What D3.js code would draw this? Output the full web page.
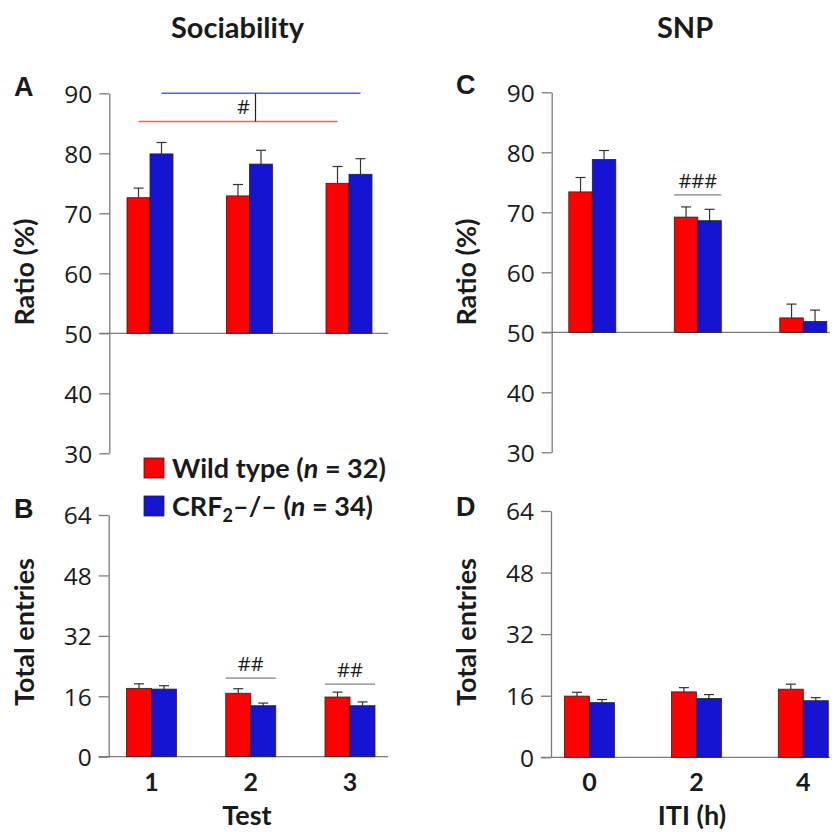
<!DOCTYPE html>
<html>
<head>
<meta charset="utf-8">
<script src="https://cdn.jsdelivr.net/npm/d3@7"></script>
<style>
	body { margin: 0; background: #fff; }
	svg text { fill: #1a1a1a; }
</style>
</head>
<body>
<div id="chart"></div>
<script>
/**
 * Sociabilite et SNP : ratios et entrees totales, WT vs CRF2-/-
 */

// Categories
const testLabels = ["1", "2", "3"];
const itiLabels = ["0", "2", "4"];

// A : ratio sociabilite (%)
const sociabilityRatioWT = [72.6, 72.9, 75.0];
const sociabilityRatioWTSem = [1.6, 1.9, 2.8];
const sociabilityRatioKO = [79.9, 78.2, 76.5];
const sociabilityRatioKOSem = [1.9, 2.3, 2.6];

// B : entrees totales sociabilite
const sociabilityEntriesWT = [18.1, 16.8, 15.8];
const sociabilityEntriesWTSem = [1.2, 1.2, 1.3];
const sociabilityEntriesKO = [17.9, 13.5, 13.5];
const sociabilityEntriesKOSem = [0.9, 0.7, 1.0];

// C : ratio SNP (%)
const snpRatioWT = [73.4, 69.2, 52.4];
const snpRatioWTSem = [2.4, 1.7, 2.3];
const snpRatioKO = [78.8, 68.6, 51.8];
const snpRatioKOSem = [1.5, 1.9, 1.9];

// D : entrees totales SNP
const snpEntriesWT = [15.9, 17.0, 17.7];
const snpEntriesWTSem = [1.0, 1.1, 1.3];
const snpEntriesKO = [14.2, 15.3, 14.7];
const snpEntriesKOSem = [0.8, 1.0, 0.8];

// Axes
const ratioTicks = [30, 40, 50, 60, 70, 80, 90];
const entriesTicks = [0, 16, 32, 48, 64];

// Annotations de significativite
const entriesSigB = [{ cat: "2", level: 20.8, label: "##" }, { cat: "3", level: 19.2, label: "##" }];
const ratioSigC = [{ cat: "2", level: 72.9, label: "###" }];

const legendLabels = ["Wild type", "CRF"];
const colors = { wt: "#ff0000", ko: "#1414d2" };

const width = 840, height = 832;
const svg = d3.select("#chart").append("svg")
	.attr("width", width)
	.attr("height", height);

const labelFont = "Lato, 'Open Sans', sans-serif";
const tickFont = "'Open Sans', sans-serif";

/**
 * Dessine un panneau de barres groupees
 */
function drawPanel(cfg) {
	const g = svg.append("g");
	const y = d3.scaleLinear().domain(cfg.domain).range([cfg.yBottom, cfg.yTop]);
	const x = d3.scalePoint().domain(cfg.categories).range(cfg.xRange);
	const bw = cfg.barWidth;

	// y axis
	const yAxis = d3.axisLeft(y).tickValues(cfg.ticks).tickSize(10).tickSizeOuter(0).tickPadding(7);
	const axisG = g.append("g")
		.attr("transform", "translate(" + cfg.axisX + ",0)")
		.call(yAxis);
	axisG.attr("font-family", tickFont).attr("font-size", 24.5);
	axisG.select(".domain").attr("stroke", "#7a7a7a").attr("stroke-width", 1.3);
	axisG.selectAll(".tick line").attr("stroke", "#7a7a7a").attr("stroke-width", 1.3);
	axisG.selectAll(".tick text").attr("fill", "#1a1a1a").attr("dy", "0.36em");

	// baseline
	g.append("line")
		.attr("x1", cfg.axisX - 10).attr("x2", cfg.xEnd)
		.attr("y1", y(cfg.base)).attr("y2", y(cfg.base))
		.attr("stroke", "#7a7a7a").attr("stroke-width", 1.3);

	const series = [
		{ values: cfg.wt, sem: cfg.wtSem, color: colors.wt, off: -bw },
		{ values: cfg.ko, sem: cfg.koSem, color: colors.ko, off: 0 }
	];

	series.forEach(s => {
		const rows = cfg.categories.map((c, i) => ({ c: c, v: s.values[i], e: s.sem[i] }));
		// error bars (behind bars)
		const err = g.append("g").selectAll("g").data(rows).enter().append("g");
		err.append("line")
			.attr("x1", d => x(d.c) + s.off + bw / 2).attr("x2", d => x(d.c) + s.off + bw / 2)
			.attr("y1", d => y(d.v)).attr("y2", d => y(d.v + d.e))
			.attr("stroke", "#333").attr("stroke-width", 1.2);
		err.append("line")
			.attr("x1", d => x(d.c) + s.off + bw / 2 - 5).attr("x2", d => x(d.c) + s.off + bw / 2 + 5)
			.attr("y1", d => y(d.v + d.e)).attr("y2", d => y(d.v + d.e))
			.attr("stroke", "#333").attr("stroke-width", 1.2);
		g.append("g").selectAll("rect").data(rows).enter().append("rect")
			.attr("x", d => x(d.c) + s.off)
			.attr("width", bw)
			.attr("y", d => y(d.v))
			.attr("height", d => y(cfg.base) - y(d.v))
			.attr("fill", s.color)
			.attr("stroke", "#222")
			.attr("stroke-width", 0.8);
	});

	// y label
	g.append("text")
		.attr("transform", "translate(" + cfg.yLabelX + "," + cfg.yLabelY + ") rotate(-90)")
		.attr("text-anchor", "middle")
		.attr("font-family", labelFont).attr("font-weight", "bold").attr("font-size", 27)
		.text(cfg.yLabel);

	// panel letter
	g.append("text")
		.attr("x", cfg.letterX).attr("y", cfg.letterY)
		.attr("font-family", "'Liberation Sans', Arial, sans-serif").attr("font-weight", "bold").attr("font-size", 27)
		.text(cfg.letter);

	// x labels
	if (cfg.xLabel) {
		g.append("g").selectAll("text").data(cfg.categories).enter().append("text")
			.attr("x", d => x(d)).attr("y", y(cfg.base) + 34)
			.attr("text-anchor", "middle")
			.attr("font-family", labelFont).attr("font-weight", "bold").attr("font-size", 25)
			.text(d => d);
		g.append("text")
			.attr("x", cfg.xLabelX).attr("y", y(cfg.base) + 68)
			.attr("text-anchor", "middle")
			.attr("font-family", labelFont).attr("font-weight", "bold").attr("font-size", 27)
			.text(cfg.xLabel);
	}

	// significativite par groupe
	(cfg.sig || []).forEach(s => {
		g.append("line")
			.attr("x1", x(s.cat) - bw).attr("x2", x(s.cat) + bw)
			.attr("y1", y(s.level)).attr("y2", y(s.level))
			.attr("stroke", "#808080").attr("stroke-width", 1.3);
		g.append("text")
			.attr("x", x(s.cat)).attr("y", y(s.level) - 7)
			.attr("text-anchor", "middle")
			.attr("font-family", tickFont).attr("font-size", 20)
			.text(s.label);
	});

	return { x: x, y: y, g: g };
}

// Panneau A
const panelA = drawPanel({
	domain: [30, 90], ticks: ratioTicks, base: 50,
	yTop: 93.3, yBottom: 453.3, axisX: 109.3, xEnd: 388,
	categories: testLabels, xRange: [150, 349], barWidth: 23,
	wt: sociabilityRatioWT, wtSem: sociabilityRatioWTSem,
	ko: sociabilityRatioKO, koSem: sociabilityRatioKOSem,
	yLabel: "Ratio (%)", yLabelX: 34, yLabelY: 272,
	letter: "A", letterX: 14, letterY: 96
});

// Interaction # (A) : lignes WT et KO
const sigLevelWT = 85.3, sigLevelKO = 90;
const bwA = 23;
panelA.g.append("line")
	.attr("x1", panelA.x("1") - bwA / 2).attr("x2", panelA.x("3") - bwA / 2)
	.attr("y1", panelA.y(sigLevelWT)).attr("y2", panelA.y(sigLevelWT))
	.attr("stroke", "#ff5a5a").attr("stroke-width", 1.4);
panelA.g.append("line")
	.attr("x1", panelA.x("1") + bwA / 2).attr("x2", panelA.x("3") + bwA / 2)
	.attr("y1", panelA.y(sigLevelKO)).attr("y2", panelA.y(sigLevelKO))
	.attr("stroke", "#5a5aff").attr("stroke-width", 1.4);
panelA.g.append("line")
	.attr("x1", panelA.x("2") + 6).attr("x2", panelA.x("2") + 6)
	.attr("y1", panelA.y(sigLevelWT)).attr("y2", panelA.y(sigLevelKO))
	.attr("stroke", "#222").attr("stroke-width", 1.2);
panelA.g.append("text")
	.attr("x", panelA.x("2") - 6).attr("y", panelA.y((sigLevelWT + sigLevelKO) / 2) + 7)
	.attr("text-anchor", "middle")
	.attr("font-family", tickFont).attr("font-size", 20)
	.text("#");

// Panneau B
drawPanel({
	domain: [0, 64], ticks: entriesTicks, base: 0,
	yTop: 515, yBottom: 756.7, axisX: 108.7, xEnd: 388,
	categories: testLabels, xRange: [151.5, 350], barWidth: 25,
	wt: sociabilityEntriesWT, wtSem: sociabilityEntriesWTSem,
	ko: sociabilityEntriesKO, koSem: sociabilityEntriesKOSem,
	yLabel: "Total entries", yLabelX: 34, yLabelY: 632,
	letter: "B", letterX: 14, letterY: 518,
	xLabel: "Test", xLabelX: 247,
	sig: entriesSigB
});

// Panneau C
drawPanel({
	domain: [30, 90], ticks: ratioTicks, base: 50,
	yTop: 92.3, yBottom: 452.3, axisX: 551.7, xEnd: 830,
	categories: itiLabels, xRange: [592.3, 803.3], barWidth: 23.5,
	wt: snpRatioWT, wtSem: snpRatioWTSem,
	ko: snpRatioKO, koSem: snpRatioKOSem,
	yLabel: "Ratio (%)", yLabelX: 476, yLabelY: 272,
	letter: "C", letterX: 456, letterY: 94,
	sig: ratioSigC
});

// Panneau D
drawPanel({
	domain: [0, 64], ticks: entriesTicks, base: 0,
	yTop: 511, yBottom: 757.3, axisX: 551, xEnd: 830,
	categories: itiLabels, xRange: [589.5, 803.3], barWidth: 25,
	wt: snpEntriesWT, wtSem: snpEntriesWTSem,
	ko: snpEntriesKO, koSem: snpEntriesKOSem,
	yLabel: "Total entries", yLabelX: 476, yLabelY: 632,
	letter: "D", letterX: 456, letterY: 516,
	xLabel: "ITI (h)", xLabelX: 692
});

// Titres
svg.append("text").attr("x", 237.5).attr("y", 38).attr("text-anchor", "middle")
	.attr("font-family", labelFont).attr("font-weight", "bold").attr("font-size", 29)
	.text("Sociability");
svg.append("text").attr("x", 685).attr("y", 38).attr("text-anchor", "middle")
	.attr("font-family", labelFont).attr("font-weight", "bold").attr("font-size", 29)
	.text("SNP");

// Legende
const legend = svg.append("g").attr("font-family", labelFont).attr("font-weight", "bold").attr("font-size", 27);
[colors.wt, colors.ko].forEach((c, i) => {
	legend.append("rect")
		.attr("x", 144).attr("y", 458 + i * 38)
		.attr("width", 20).attr("height", 20)
		.attr("fill", c).attr("stroke", "#222").attr("stroke-width", 0.8);
});
const wtText = legend.append("text").attr("x", 172).attr("y", 478);
wtText.append("tspan").text(legendLabels[0] + " (");
wtText.append("tspan").attr("font-style", "italic").text("n");
wtText.append("tspan").text(" = 32)");
const koText = legend.append("text").attr("x", 172).attr("y", 516);
koText.append("tspan").text(legendLabels[1]);
koText.append("tspan").attr("font-size", 18).attr("dy", 6).text("2");
koText.append("tspan").attr("dy", -6).text("–/– (");
koText.append("tspan").attr("font-style", "italic").text("n");
koText.append("tspan").text(" = 34)");
</script>
</body>
</html>
